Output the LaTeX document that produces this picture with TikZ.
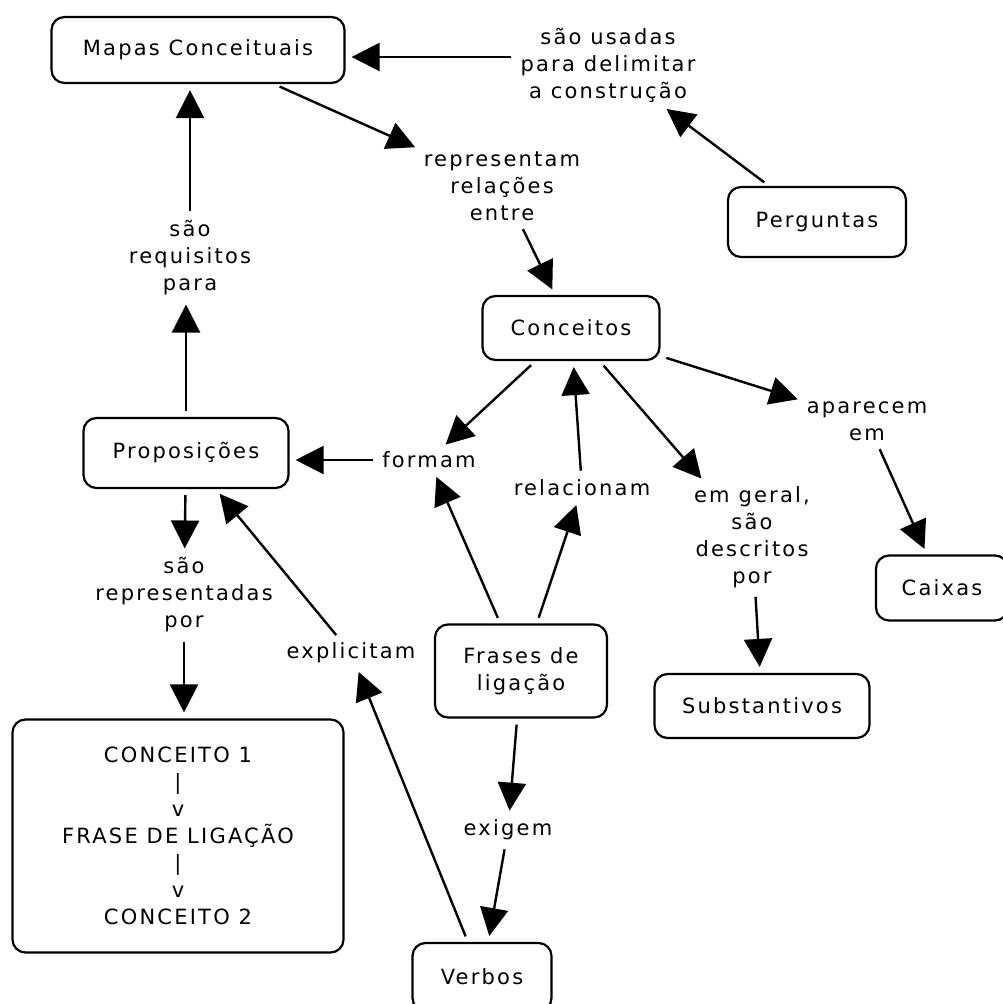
\documentclass[tikz,border=0pt]{standalone}
\usepackage{fontspec}
\setmainfont{DejaVu Sans}[LetterSpace=10.5]
\usetikzlibrary{arrows.meta}

\begin{document}
\begin{tikzpicture}[
    x=1pt, y=-1pt,
    every node/.style={font=\fontsize{21}{27}\selectfont},
    conceito/.style={rectangle, draw=black, line width=2.2pt, rounded corners=13pt, align=center, inner sep=2pt},
    ligacao/.style={align=center, inner sep=3pt},
    seta/.style={draw=black, line width=2.4pt, -{Triangle[length=28pt, width=28pt]}, shorten <=6pt, shorten >=6pt}
]
    \useasboundingbox (0,0) rectangle (1003,1004);

    % Conceitos do mapa
    \node (mapas) [conceito, minimum width=293pt, minimum height=66pt] at (198,50) {Mapas Conceituais};
    \node (perguntas) [conceito, minimum width=178pt, minimum height=70pt] at (817,222) {Perguntas};
    \node (conceitos) [conceito, minimum width=177pt, minimum height=64pt] at (571,328) {Conceitos};
    \node (proposicoes) [conceito, minimum width=205pt, minimum height=70pt] at (186,453) {Proposições};
    \node (caixas) [conceito, minimum width=132pt, minimum height=65pt] at (942,588) {Caixas};
    \node (substantivos) [conceito, minimum width=215pt, minimum height=64pt] at (762,706) {Substantivos};
    \node (frases) [conceito, minimum width=172pt, minimum height=93pt] at (521,671) {Frases de\\ligação};
    \node (verbos) [conceito, minimum width=139pt, minimum height=68pt] at (482,977) {Verbos};
    \node (exemplo) [conceito, minimum width=331pt, minimum height=233pt] at (178,836) {CONCEITO 1\\|\\v\\FRASE DE LIGAÇÃO\\|\\v\\CONCEITO 2};

    % Frases de ligacao
    \node (usadas) [ligacao] at (608,65) {são usadas\\para delimitar\\a construção};
    \node (representam) [ligacao] at (502,186) {representam\\relações\\entre};
    \node (requisitos) [ligacao] at (190,258) {são\\requisitos\\para};
    \node (formam) [ligacao] at (429,460) {formam};
    \node (relacionam) [ligacao] at (582,488) {relacionam};
    \node (emgeral) [ligacao] at (752,537) {em geral,\\são\\descritos\\por};
    \node (aparecem) [ligacao] at (867,421) {aparecem\\em};
    \node (explicitam) [ligacao] at (351,653) {explicitam};
    \node (representadas) [ligacao] at (184,595) {são\\representadas\\por};
    \node (exigem) [ligacao] at (508,830) {exigem};
    \coordinate (usadasw) at ([yshift=8pt]usadas.west);

    % Conexões
    \path [seta] (perguntas) -- (usadas);
    \path [seta] (usadasw) -- (usadasw -| mapas.east);
    \path [seta] (mapas) -- (representam);
    \path [seta] (representam) -- (conceitos);
    \path [seta] (requisitos) -- (requisitos |- mapas.south);
    \path [seta] (proposicoes) -- (proposicoes |- requisitos.south);
    \path [seta] (conceitos) -- (formam);
    \path [seta] (formam) -- (formam -| proposicoes.east);
    \path [seta] (frases) -- (formam);
    \path [seta] (frases) -- (relacionam);
    \path [seta] (relacionam) -- (conceitos);
    \path [seta] (conceitos) -- (emgeral);
    \path [seta] (emgeral) -- (substantivos);
    \path [seta] (conceitos) -- (aparecem);
    \path [seta] (aparecem) -- (caixas);
    \path [seta] (verbos) -- (explicitam);
    \path [seta] (explicitam) -- (proposicoes);
    \path [seta] (frases) -- (exigem);
    \path [seta] (exigem) -- (verbos);
    \path [seta] (proposicoes) -- (representadas);
    \path [seta] (representadas) -- (representadas |- exemplo.north);
\end{tikzpicture}
\end{document}
